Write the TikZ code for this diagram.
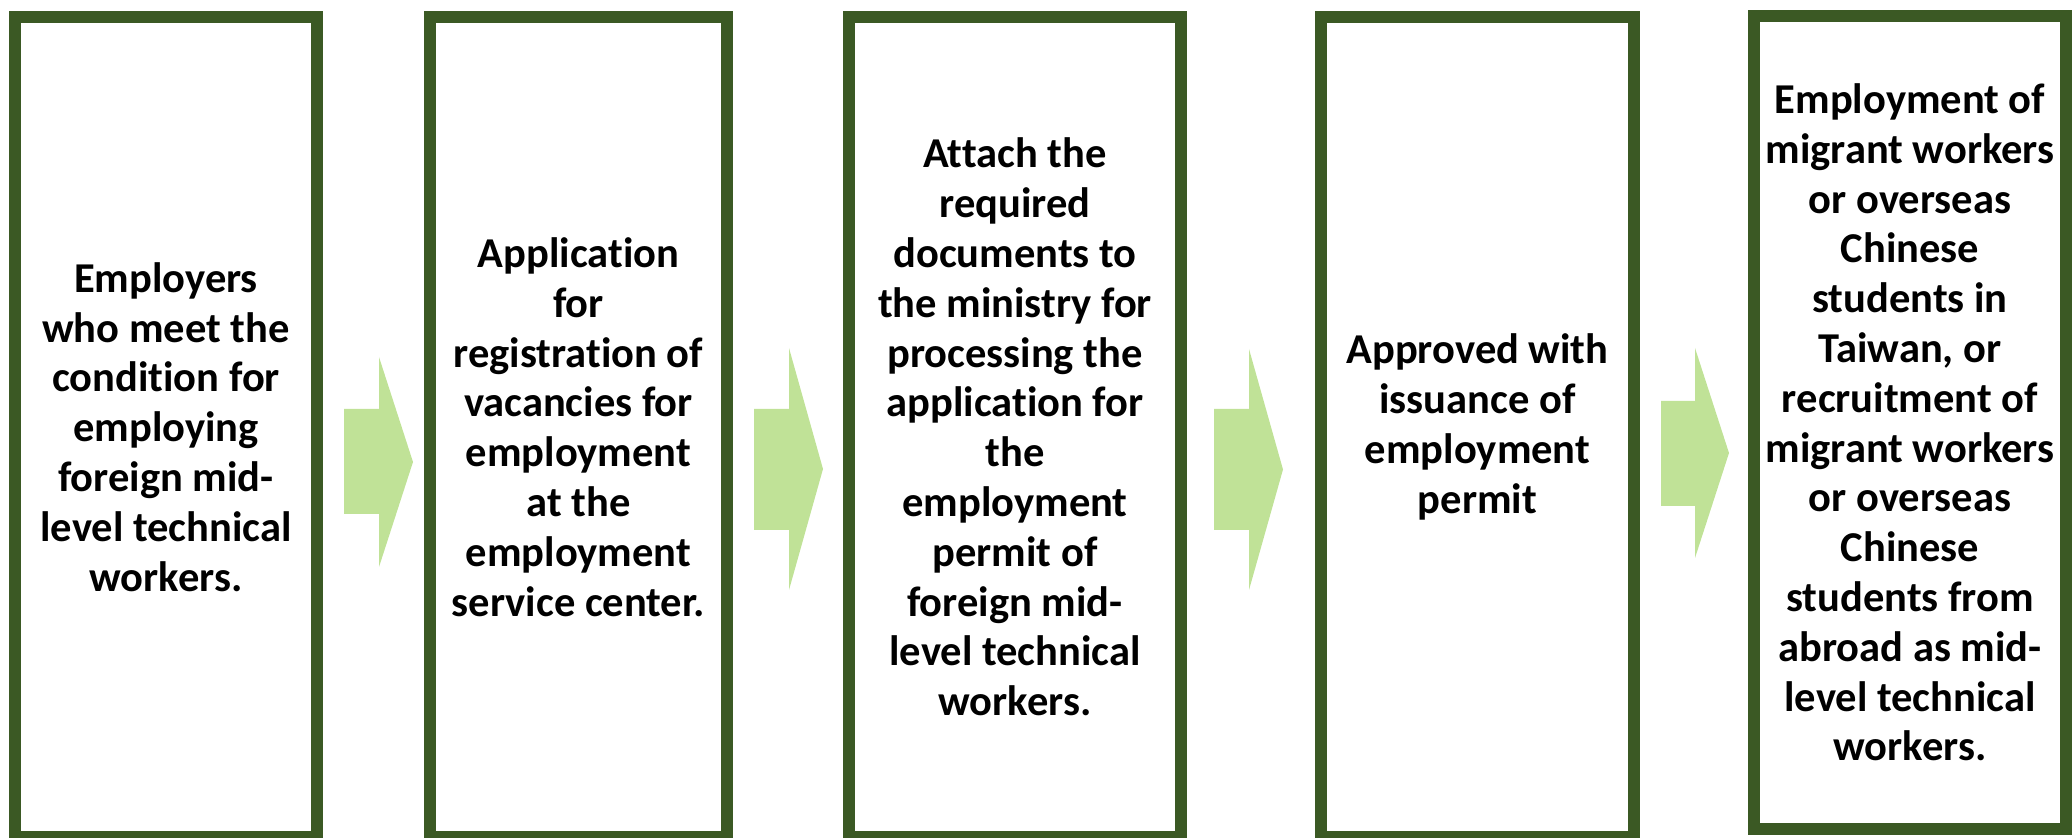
\documentclass[tikz,border=0pt]{standalone}
\usepackage{fontspec}
\setmainfont{Carlito}[Ligatures=NoCommon]
\usepackage{xcolor}
\usepackage{tikz}
\usetikzlibrary{positioning, calc}

\definecolor{boxgreen}{RGB}{59,89,36}
\definecolor{arrowgreen}{RGB}{192,226,151}

\begin{document}
\begin{tikzpicture}[
    stepbox/.style={draw=boxgreen, line width=0.12cm, align=center, minimum height=8.2cm,
        font=\fontsize{12.1}{14.17}\selectfont\bfseries},
    flowarrow/.style={fill=arrowgreen}
]
    \useasboundingbox (0,0) rectangle (20.72,-8.38);

    % process steps
    \node[stepbox, minimum width=3.02cm] at (1.66,-4.27) (s1)
        {Employers\\who meet the\\condition for\\employing\\foreign mid-\\level technical\\workers.};
    \node[stepbox, minimum width=2.97cm] at (5.785,-4.27) (s2)
        {Application\\for\\registration of\\vacancies for\\employment\\at the\\employment\\service center.};
    \node[stepbox, minimum width=3.32cm] at (10.15,-4.27) (s3)
        {Attach the\\required\\documents to\\the ministry for\\processing the\\application for\\the\\employment\\permit of\\foreign mid-\\level technical\\workers.};
    \node[stepbox, minimum width=3.13cm] at (14.775,-4.27) (s4)
        {Approved with\\issuance of\\employment\\permit};
    \node[stepbox, minimum width=3.12cm, minimum height=8.13cm] at (19.10,-4.225) (s5)
        {Employment of\\migrant workers\\or overseas\\Chinese\\students in\\Taiwan, or\\recruitment of\\migrant workers\\or overseas\\Chinese\\students from\\abroad as mid-\\level technical\\workers.};

    % block arrows between the steps
    \fill[flowarrow] (3.44,-4.09) -- (3.79,-4.09) -- (3.79,-3.57) -- (4.13,-4.62)
        -- (3.79,-5.67) -- (3.79,-5.14) -- (3.44,-5.14) -- cycle;
    \fill[flowarrow] (7.54,-4.09) -- (7.89,-4.09) -- (7.89,-3.48) -- (8.23,-4.69)
        -- (7.89,-5.90) -- (7.89,-5.30) -- (7.54,-5.30) -- cycle;
    \fill[flowarrow] (12.14,-4.09) -- (12.49,-4.09) -- (12.49,-3.49) -- (12.83,-4.695)
        -- (12.49,-5.90) -- (12.49,-5.30) -- (12.14,-5.30) -- cycle;
    \fill[flowarrow] (16.61,-4.01) -- (16.95,-4.01) -- (16.95,-3.48) -- (17.29,-4.53)
        -- (16.95,-5.58) -- (16.95,-5.06) -- (16.61,-5.06) -- cycle;
\end{tikzpicture}
\end{document}
